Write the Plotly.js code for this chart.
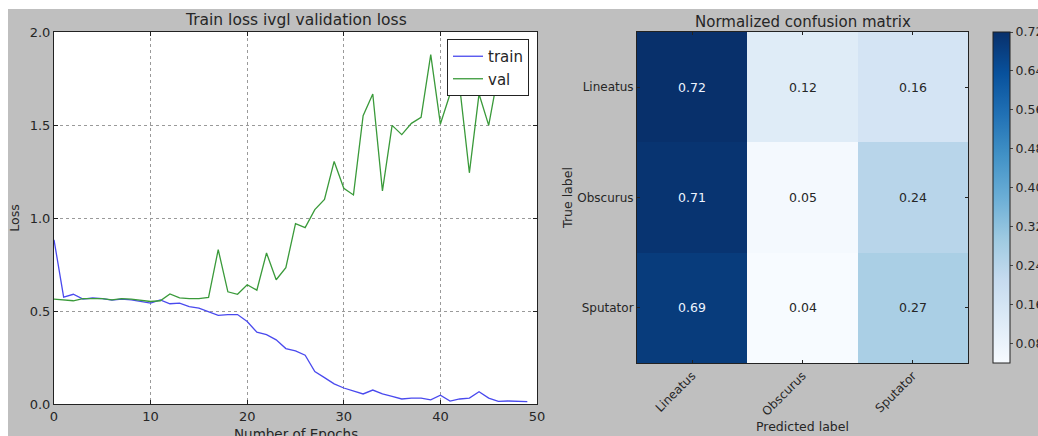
<!DOCTYPE html>
<html>
<head>
<meta charset="utf-8">
<script src="https://cdn.plot.ly/plotly-3.0.1.min.js"></script>
<style>html,body{margin:0;padding:0;background:#fff;}#chart{width:1038px;height:436px;}</style>
</head>
<body>
<div id="chart"></div>
<script>
// ---- Data ----
const epochs = [...Array(50).keys()];
const trainLoss = [0.883,0.575,0.590,0.564,0.570,0.567,0.558,0.564,0.560,0.553,
                   0.542,0.560,0.539,0.542,0.524,0.515,0.497,0.476,0.481,0.481,
                   0.443,0.386,0.373,0.345,0.298,0.285,0.262,0.174,0.142,0.108,
                   0.086,0.068,0.054,0.075,0.054,0.041,0.027,0.032,0.032,0.022,
                   0.047,0.016,0.027,0.032,0.066,0.032,0.014,0.016,0.016,0.013];
const valLoss = [0.564,0.558,0.555,0.566,0.567,0.566,0.560,0.566,0.564,0.557,
                 0.551,0.555,0.592,0.571,0.566,0.566,0.573,0.830,0.603,0.590,
                 0.641,0.612,0.812,0.668,0.733,0.970,0.948,1.045,1.100,1.304,
                 1.160,1.124,1.550,1.667,1.146,1.498,1.448,1.509,1.541,1.878,
                 1.505,1.667,1.705,1.243,1.667,1.498,1.780,1.820,1.750,1.860];
const classes = ['Lineatus','Obscurus','Sputator'];
const cmValues = [[0.72,0.12,0.16],
                  [0.71,0.05,0.24],
                  [0.69,0.04,0.27]];
const cbTicks = [0.08,0.16,0.24,0.32,0.40,0.48,0.56,0.64,0.72];

const W = 1038, H = 436;
const px = v => v / W, py = v => 1 - v / H;
const FONT = 'DejaVu Sans, sans-serif';
const TXT = '#262626';

const blues = [[0,'#f7fbff'],[0.125,'#deebf7'],[0.25,'#c6dbef'],[0.375,'#9ecae1'],
               [0.5,'#6baed6'],[0.625,'#4292c6'],[0.75,'#2171b5'],[0.875,'#08519c'],[1,'#08306b']];
const zmin = Math.min(...cmValues.flat()), zmax = Math.max(...cmValues.flat());
const thresh = zmax / 2;

const traces = [
  {x: epochs, y: trainLoss, type:'scatter', mode:'lines', name:'train',
   line:{color:'#4a4aee', width:1.3}, xaxis:'x', yaxis:'y'},
  {x: epochs, y: valLoss, type:'scatter', mode:'lines', name:'val',
   line:{color:'#3a9a3a', width:1.3}, xaxis:'x', yaxis:'y'},
  {z: cmValues, x: classes, y: classes, type:'heatmap', xaxis:'x2', yaxis:'y2',
   colorscale: blues, zmin: zmin, zmax: zmax, showlegend:false, hoverinfo:'z',
   colorbar:{x: px(993), xanchor:'left', thickness:17, thicknessmode:'pixels',
     len:(363-32)/H, lenmode:'fraction', y: py((32+363)/2), yanchor:'middle',
     outlinecolor:'#222', outlinewidth:1, tickvals: cbTicks, ticktext: cbTicks.map(v=>v.toFixed(2)),
     ticks:'outside', ticklen:3, tickcolor:'#444', tickfont:{family:FONT,size:12.5,color:TXT}, xpad:0, ypad:0}}
];

const annotations = [];
cmValues.forEach((row,i)=>row.forEach((v,j)=>{
  annotations.push({x: classes[j], y: classes[i], xref:'x2', yref:'y2', text: v.toFixed(2),
    showarrow:false, font:{family:FONT, size:12.5, color: v > thresh ? '#eef4ff' : TXT}});
}));
annotations.push({text:'Train loss ivgl validation loss', xref:'paper', yref:'paper',
  x: px((54+537)/2), y: py(20), xanchor:'center', yanchor:'middle', showarrow:false,
  font:{family:FONT,size:15.5,color:TXT}});
annotations.push({text:'Normalized confusion matrix', xref:'paper', yref:'paper',
  x: px((637+968)/2), y: py(22), xanchor:'center', yanchor:'middle', showarrow:false,
  font:{family:FONT,size:15,color:TXT}});
annotations.push({text:'Number of Epochs', xref:'paper', yref:'paper',
  x: px((54+537)/2), y: py(434), xanchor:'center', yanchor:'middle', showarrow:false,
  font:{family:FONT,size:13.5,color:TXT}});
annotations.push({text:'Predicted label', xref:'paper', yref:'paper',
  x: px((637+968)/2), y: py(426), xanchor:'center', yanchor:'middle', showarrow:false,
  font:{family:FONT,size:12.5,color:TXT}});

const axCommon = {showline:true, mirror:'ticks', linecolor:'#222', linewidth:1, automargin:false,
  ticks:'inside', ticklen:4, tickcolor:'#222', tickfont:{family:FONT, size:13, color:TXT}, zeroline:false};

const layout = {
  width: W, height: H, margin:{l:0,r:0,t:0,b:0, autoexpand:false},
  paper_bgcolor:'#bfbfbf', plot_bgcolor:'#ffffff', showlegend:true,
  font:{family:FONT, color:TXT},
  shapes:[
    {type:'rect', xref:'paper', yref:'paper', x0:0, x1:1, y0:py(9), y1:1, fillcolor:'#ffffff', line:{width:0}, layer:'below'},
    {type:'rect', xref:'paper', yref:'paper', x0:0, x1:px(8), y0:0, y1:1, fillcolor:'#ffffff', line:{width:0}, layer:'below'}
  ],
  xaxis: Object.assign({}, axCommon, {domain:[px(54), px(537)], range:[0,50], dtick:10,
    showgrid:true, gridcolor:'#9a9a9a', griddash:'dot', gridwidth:1, anchor:'y'}),
  yaxis: Object.assign({}, axCommon, {domain:[py(404), py(32)], range:[0,2], dtick:0.5, tickformat:'.1f',
    showgrid:true, gridcolor:'#9a9a9a', griddash:'dot', gridwidth:1,
    title:{text:'Loss', font:{family:FONT,size:12.5,color:TXT}}, anchor:'x'}),
  xaxis2: Object.assign({}, axCommon, {domain:[px(637), px(968)], anchor:'y2', showgrid:false,
    tickangle:-45, tickfont:{family:FONT,size:12,color:TXT}, ticklen:3}),
  yaxis2: Object.assign({}, axCommon, {domain:[py(363), py(32)], anchor:'x2', showgrid:false,
    autorange:'reversed', tickfont:{family:FONT,size:12,color:TXT}, ticklen:3,
    title:{text:'True label', font:{family:FONT,size:12.5,color:TXT}}}),
  legend:{x: px(529), xanchor:'right', y: py(39), yanchor:'top', bgcolor:'#ffffff',
    bordercolor:'#222', borderwidth:1, font:{family:FONT, size:15, color:TXT}, tracegroupgap:0},
  annotations: annotations
};

Plotly.newPlot('chart', traces, layout, {staticPlot:true, displayModeBar:false});
</script>
</body>
</html>
